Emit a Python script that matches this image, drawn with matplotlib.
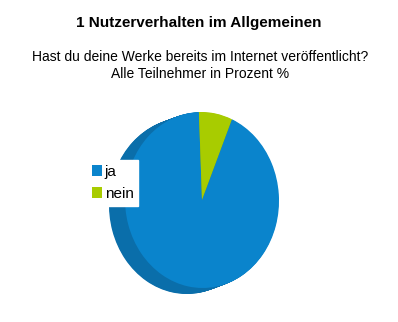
import matplotlib.pyplot as plt
from matplotlib.transforms import Affine2D

labels = ['ja', 'nein']
werte = [93, 7]
farben = ['#0a84cc', '#a8cc00']
farben_seite = ['#0a6eaa', '#8aa800']

plt.rcParams['font.family'] = ['Liberation Sans', 'DejaVu Sans']

W, H = 398, 322
fig = plt.figure(figsize=(W / 100, H / 100), dpi=100)
ax = fig.add_axes([0, 0, 1, 1])

# ellipse geometry of the top face (pixel units, y up)
cx, cy = 202, H - 200
rx, ry = 77, 88
tilt = 2
tiefe = (-16, -6)

def pie_at(dx, dy, cols):
    wedges, _ = ax.pie(werte, colors=cols, startangle=90, radius=1,
                       wedgeprops=dict(linewidth=0))
    tr = Affine2D().scale(rx, ry).rotate_deg(tilt).translate(cx + dx, cy + dy)
    for w in wedges:
        w.set_transform(tr + ax.transData)
    return wedges

# side of the disc: stack shifted copies, back to front
n = 24
for i in range(n, 0, -1):
    f = i / n
    pie_at(tiefe[0] * f, tiefe[1] * f, farben_seite)

oben = pie_at(0, 0, farben)

ax.set_xlim(0, W)
ax.set_ylim(0, H)
ax.set_aspect('auto')
ax.axis('off')

fig.text(0.5, 1 - 23 / H, '1 Nutzerverhalten im Allgemeinen', ha='center',
         va='center', fontsize=11, fontweight='bold')
fig.text(0.503, 1 - 65.5 / H,
         'Hast du deine Werke bereits im Internet veröffentlicht?\nAlle Teilnehmer in Prozent %',
         ha='center', va='center', fontsize=10, linespacing=1.2)

leg = fig.legend(oben, labels, loc='upper left',
                 bbox_to_anchor=(87 / W, 1 - 160 / H), borderaxespad=0,
                 fontsize=11, frameon=True, fancybox=False, framealpha=1,
                 edgecolor='white', handlelength=0.7, handleheight=0.7,
                 handletextpad=0.15, labelspacing=0.55, borderpad=0.3)

fig.savefig('out.png', dpi=100)
